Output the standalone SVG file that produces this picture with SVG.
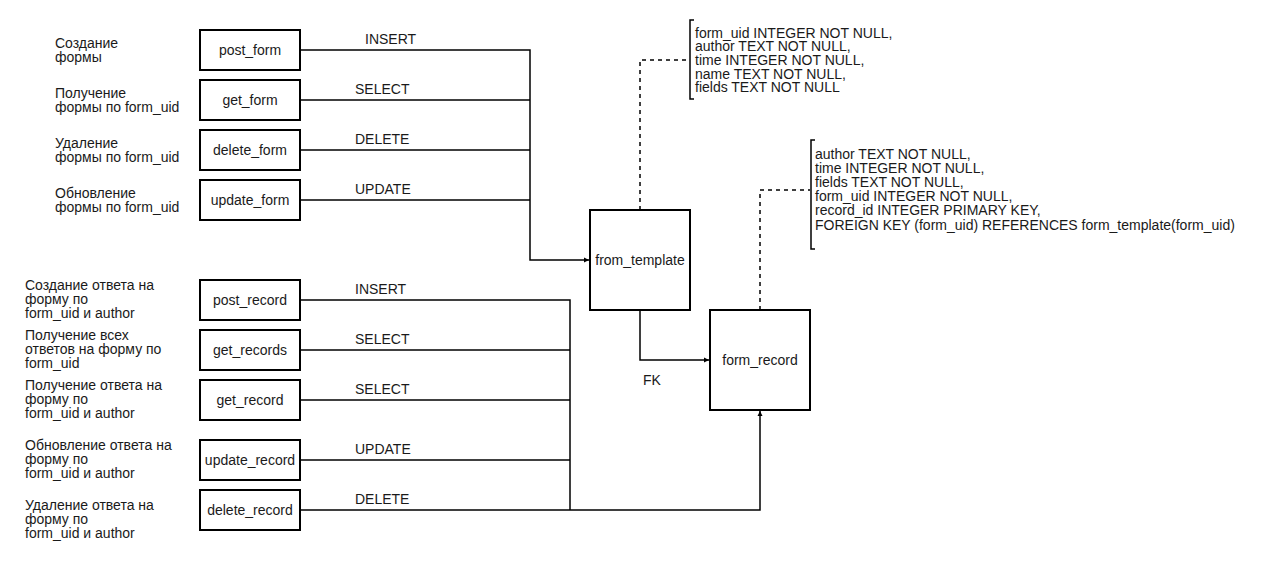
<svg xmlns="http://www.w3.org/2000/svg" width="1270" height="570" viewBox="0 0 1270 570">
<style>
text{font-family:"Liberation Sans",Arial,sans-serif;font-size:14px;fill:#1a1a1a}
.box{fill:#fff;stroke:#000;stroke-width:2}
.c{text-anchor:middle}
.ln{fill:none;stroke:#000;stroke-width:1.5}
.ds{fill:none;stroke:#000;stroke-width:1.5;stroke-dasharray:4 4}
.br{fill:none;stroke:#000;stroke-width:1.5}
</style>
<defs>
<marker id="arr" markerWidth="6" markerHeight="6" refX="5" refY="3" orient="auto" markerUnits="userSpaceOnUse">
<path d="M0,0.5 L5,3 L0,5.5 Z" fill="#000"/>
</marker>
</defs>
<rect width="1270" height="570" fill="#fff"/>

<g id="connectors">
<path class="ln" d="M300,50 H530 V260 H589" marker-end="url(#arr)"/>
<path class="ln" d="M300,100 H530"/>
<path class="ln" d="M300,150 H530"/>
<path class="ln" d="M300,200 H530"/>
<path class="ln" d="M300,300 H570 V510"/>
<path class="ln" d="M300,350 H570"/>
<path class="ln" d="M300,400 H570"/>
<path class="ln" d="M300,460 H570"/>
<path class="ln" d="M300,510 H760 V411" marker-end="url(#arr)"/>
<path class="ln" d="M640,310 V360 H709" marker-end="url(#arr)"/>
<path class="ds" d="M640,210 V60 H689"/>
<path class="ds" d="M760,310 V190 H810"/>
<text x="365" y="44">INSERT</text>
<text x="355" y="94">SELECT</text>
<text x="355" y="144">DELETE</text>
<text x="355" y="194">UPDATE</text>
<text x="355" y="294">INSERT</text>
<text x="355" y="344">SELECT</text>
<text x="355" y="394">SELECT</text>
<text x="355" y="454">UPDATE</text>
<text x="355" y="504">DELETE</text>
<text x="643" y="385">FK</text>
</g>

<g id="desc-labels">
<text x="55" y="48">Создание</text><text x="55" y="62">формы</text>
<text x="55" y="98">Получение</text><text x="55" y="112">формы по form_uid</text>
<text x="55" y="148">Удаление</text><text x="55" y="162">формы по form_uid</text>
<text x="55" y="198">Обновление</text><text x="55" y="212">формы по form_uid</text>
<text x="25" y="290">Создание ответа на</text><text x="25" y="304">форму по</text><text x="25" y="318">form_uid и author</text>
<text x="25" y="340">Получение всех</text><text x="25" y="354">ответов на форму по</text><text x="25" y="368">form_uid</text>
<text x="25" y="390">Получение ответа на</text><text x="25" y="404">форму по</text><text x="25" y="418">form_uid и author</text>
<text x="25" y="450">Обновление ответа на</text><text x="25" y="464">форму по</text><text x="25" y="478">form_uid и author</text>
<text x="25" y="510">Удаление ответа на</text><text x="25" y="524">форму по</text><text x="25" y="538">form_uid и author</text>
</g>

<g id="post_form"><rect class="box" x="200" y="30" width="100" height="40"/><text class="c" x="250" y="55">post_form</text></g>
<g id="get_form"><rect class="box" x="200" y="80" width="100" height="40"/><text class="c" x="250" y="105">get_form</text></g>
<g id="delete_form"><rect class="box" x="200" y="130" width="100" height="40"/><text class="c" x="250" y="155">delete_form</text></g>
<g id="update_form"><rect class="box" x="200" y="180" width="100" height="40"/><text class="c" x="250" y="205">update_form</text></g>

<g id="post_record"><rect class="box" x="200" y="280" width="100" height="40"/><text class="c" x="250" y="305">post_record</text></g>
<g id="get_records"><rect class="box" x="200" y="330" width="100" height="40"/><text class="c" x="250" y="355">get_records</text></g>
<g id="get_record"><rect class="box" x="200" y="380" width="100" height="40"/><text class="c" x="250" y="405">get_record</text></g>
<g id="update_record"><rect class="box" x="200" y="440" width="100" height="40"/><text class="c" x="250" y="465">update_record</text></g>
<g id="delete_record"><rect class="box" x="200" y="490" width="100" height="40"/><text class="c" x="250" y="515">delete_record</text></g>

<g id="from_template"><rect class="box" x="590" y="210" width="100" height="100"/><text class="c" x="640" y="265">from_template</text></g>
<g id="form_record"><rect class="box" x="710" y="310" width="100" height="100"/><text class="c" x="760" y="365">form_record</text></g>

<g id="template_schema">
<path class="br" d="M694,20 H690 V99 H694"/>
<text x="695" y="38">form_uid INTEGER NOT NULL,</text>
<text x="695" y="51">author TEXT NOT NULL,</text>
<text x="695" y="65">time INTEGER NOT NULL,</text>
<text x="695" y="79">name TEXT NOT NULL,</text>
<text x="695" y="92">fields TEXT NOT NULL</text>
</g>

<g id="record_schema">
<path class="br" d="M815,140 H811 V249 H815"/>
<text x="815" y="159">author TEXT NOT NULL,</text>
<text x="815" y="173">time INTEGER NOT NULL,</text>
<text x="815" y="187">fields TEXT NOT NULL,</text>
<text x="815" y="201">form_uid INTEGER NOT NULL,</text>
<text x="815" y="215">record_id INTEGER PRIMARY KEY,</text>
<text x="815" y="230">FOREIGN KEY (form_uid) REFERENCES form_template(form_uid)</text>
</g>
</svg>
